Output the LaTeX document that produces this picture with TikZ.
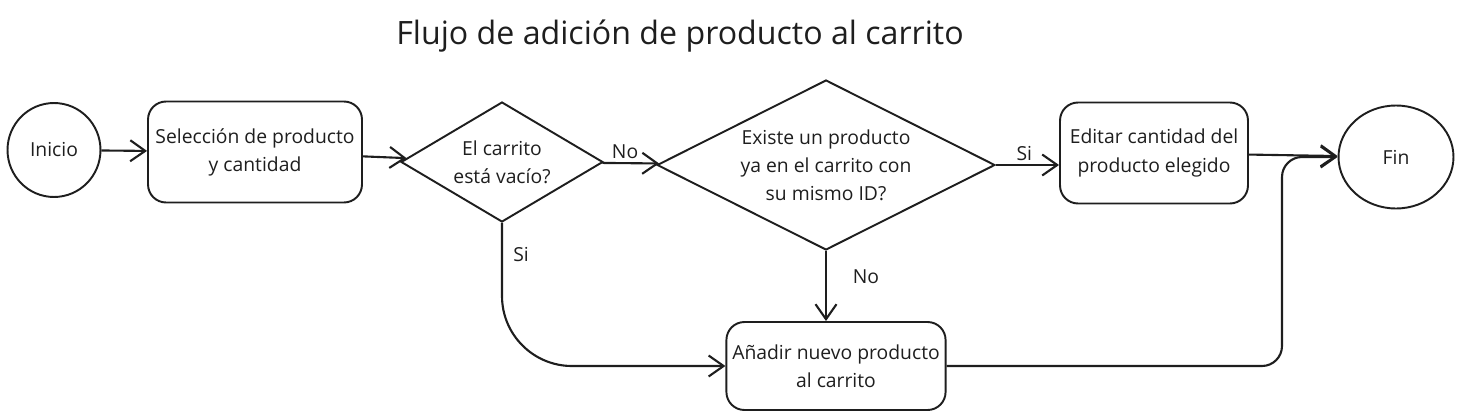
\documentclass[tikz,border=0pt]{standalone}
\usepackage{fontspec}
\setmainfont{Open Sans}
\usetikzlibrary{positioning,arrows.meta,shapes.geometric}
\definecolor{trazo}{HTML}{1E1E1E}
\tikzset{
    every node/.style = {text=trazo},
    caja/.style = {
        draw=trazo,
        shape=rectangle,
        rounded corners=0.36cm,
        align=center,
        line width=1.1pt,
        font=\fontsize{11}{16}\selectfont
    },
    extremo/.style = {
        draw=trazo,
        shape=ellipse,
        inner sep=0pt,
        line width=1.1pt,
        font=\fontsize{11}{16}\selectfont
    },
    pregunta/.style = {
        draw=trazo,
        shape=diamond,
        aspect=2,
        inner sep=0pt,
        align=center,
        line width=1.1pt,
        font=\fontsize{11}{16}\selectfont
    },
    etiqueta/.style = {
        font=\fontsize{11}{13}\selectfont,
        inner sep=2pt
    },
    flecha/.style = {
        draw=trazo,
        ->,
        line width=1.2pt
    },
    >={Straight Barb[length=3mm,width=4.2mm]},
}

\begin{document}
\begin{tikzpicture}[x=0.02cm, y=-0.02cm]
            \useasboundingbox (0,0) rectangle (1464,419);

            \node[font=\fontsize{18.3}{22}\selectfont] (titulo) at (680,36) {Flujo de adición de producto al carrito};

            \node[extremo, minimum width=1.86cm, minimum height=1.88cm] (inicio) at (54,150) {Inicio};
            \node[caja, minimum width=4.28cm, minimum height=2.02cm] (sel) at (255,152) {Selección de producto\\y cantidad};
            \node[pregunta, minimum width=4.04cm, minimum height=2.4cm] (vacio) at (502,162) {El carrito\\está vacío?};
            \node[pregunta, minimum width=6.76cm, minimum height=3.4cm] (existe) at (826,165) {Existe un producto\\ya en el carrito con\\su mismo ID?};
            \node[caja, minimum width=3.76cm, minimum height=2.02cm] (editar) at (1154,153) {Editar cantidad del\\producto elegido};
            \node[extremo, minimum width=2.3cm, minimum height=2.06cm] (fin) at (1396,157) {Fin};
            \node[caja, minimum width=4.36cm, minimum height=1.76cm] (anadir) at (836,366) {Añadir nuevo producto\\al carrito};

            \coordinate (junta) at (1282,157);

            \path[flecha] (inicio) -- (sel);
            \path[flecha] (sel) -- (vacio);
            \path[flecha] (vacio) -- node[etiqueta, pos=0.4, above] {No} (existe);
            \path[flecha] (existe.east) -- node[etiqueta, pos=0.45, above] {Si} (existe.east -| editar.west);
            \path[flecha] (editar) -- (fin);
            \path[flecha, rounded corners=1.4cm] (vacio.south) |- (anadir.west);
            \path[flecha] (existe.south) -- (existe.south |- anadir.north);
            \path[flecha, rounded corners=0.4cm] (anadir.east) -| (junta) -- (fin.west);

            \node[etiqueta] at (521,255) {Si};
            \node[etiqueta] at (866,277) {No};
\end{tikzpicture}
\end{document}
